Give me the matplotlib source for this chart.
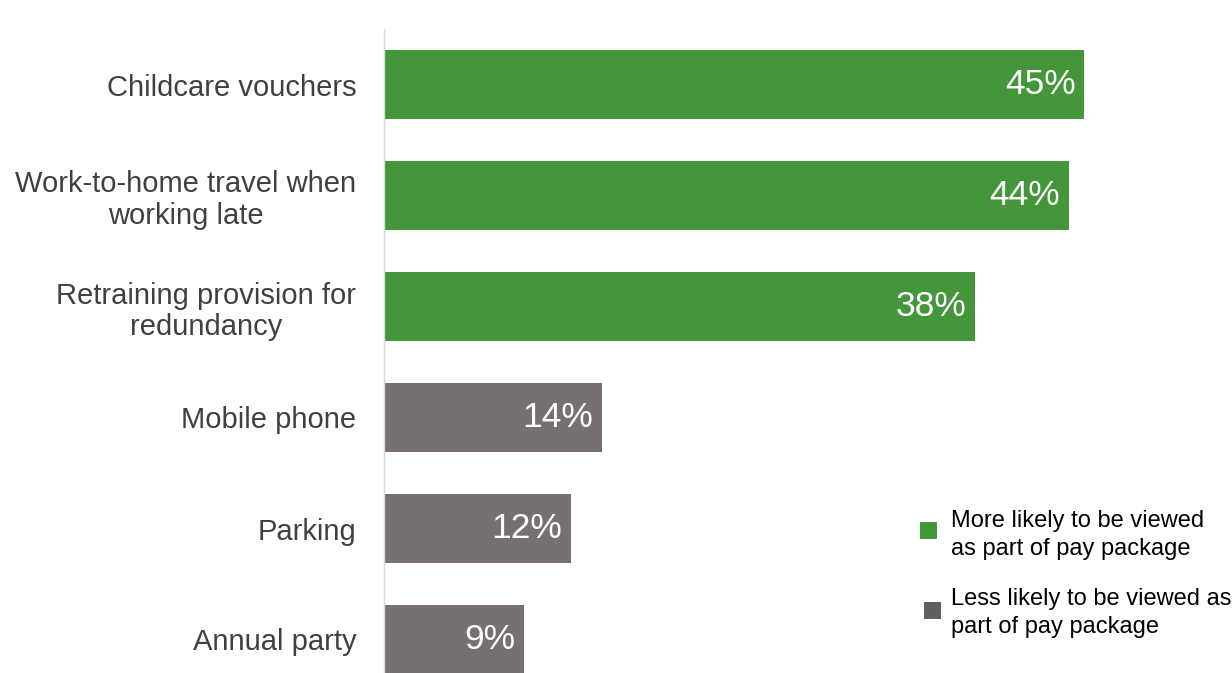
import matplotlib.pyplot as plt
from matplotlib.patches import Rectangle

plt.rcParams['font.family'] = ['Liberation Sans', 'DejaVu Sans']

categories = [
    'Childcare vouchers',
    'Work-to-home travel when\nworking late',
    'Retraining provision for\nredundancy',
    'Mobile phone',
    'Parking',
    'Annual party',
]
values = [45, 44, 38, 14, 12, 9]
more_likely = [True, True, True, False, False, False]
legend_labels = ['More likely to be viewed\nas part of pay package',
                 'Less likely to be viewed as\npart of pay package']

green = '#43963A'
grey = '#767170'
text_col = '#404040'

W, H = 1232, 673
fig = plt.figure(figsize=(W / 100, H / 100), dpi=100)

# axes: left edge at x=384 px, 15.56 px per percent, 111 px per row
ax_left = 384 / W
ax_top = 29
ax_h = 666
ax = fig.add_axes([ax_left, (H - ax_top - ax_h) / H, 1 - ax_left, ax_h / H])

ypos = list(range(len(categories)))
colors = [green if m else grey for m in more_likely]
ax.barh(ypos, values, height=0.615, color=colors, zorder=2)

ax.set_xlim(0, (W - 384) / 15.56)
ax.set_ylim(len(categories) - 0.5, -0.5)

for y, v in zip(ypos, values):
    ax.text(v - 0.55, y, f'{v}%', ha='right', va='center', color='white', fontsize=25.5)

ax.set_yticks(ypos)
ax.set_yticklabels(categories, fontsize=21, color=text_col, multialignment='center',
                   linespacing=1.18)
ax.tick_params(axis='y', length=0, pad=20)
ax.set_xticks([])

for s in ['top', 'right', 'bottom']:
    ax.spines[s].set_visible(False)
ax.spines['left'].set_color('#D9D9D9')
ax.spines['left'].set_linewidth(1)

# legend
legend_items = [(928, 530, green, 535), (932, 610, '#5F5F5F', 613)]
for (cx, cy, col, ty), lab in zip(legend_items, legend_labels):
    sz = 17
    fig.patches.append(Rectangle(((cx - sz / 2) / W, 1 - (cy + sz / 2) / H), sz / W, sz / H,
                                 transform=fig.transFigure, facecolor=col, edgecolor='none'))
    fig.text(951 / W, 1 - ty / H, lab, ha='left', va='center', fontsize=17,
             color='black', linespacing=1.33)

plt.savefig('out.png', dpi=100)
